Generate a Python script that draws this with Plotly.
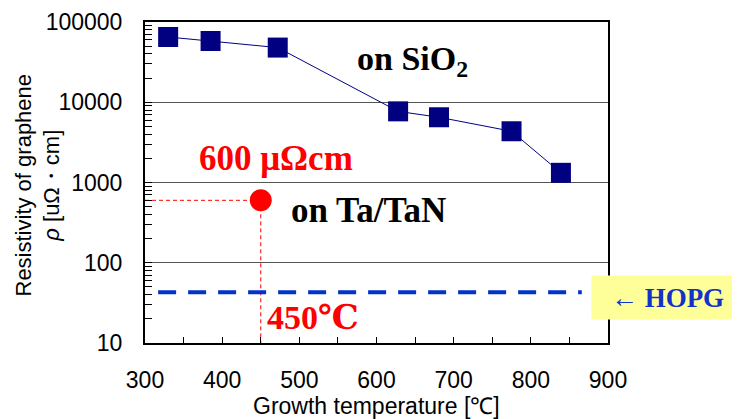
import plotly.graph_objects as go

# Data
sio2_temp = [330, 385, 472, 628, 681, 775, 839]
sio2_rho = [65000, 58000, 48000, 7700, 6500, 4350, 1320]
tatan_temp = [450]
tatan_rho = [600]
hopg_rho = 43
hopg_temp_span = [317, 866]
x_ticks = [300, 400, 500, 600, 700, 800, 900]
y_ticks = [10, 100, 1000, 10000, 100000]
y_ticktext = ["10", "100", "1000", "10000", "100000"]
y_minor = [m * 10 ** e for e in range(1, 5) for m in range(2, 10)]

# page body adds an 8px offset; layout is expressed in screenshot pixels
L, R, T, B = 137, 132, 14, 76
W, H = 732, 411
PW, PH = W - L - R, H - T - B

def px(xs):
    return (xs - 8 - L) / PW

def py(ys):
    return (H - B - (ys - 8)) / PH

fig = go.Figure()

# red guide lines to the Ta/TaN point
fig.add_trace(go.Scatter(x=[300, tatan_temp[0]], y=[tatan_rho[0], tatan_rho[0]], mode="lines",
                         line=dict(color="red", width=1, dash="4px,3px"), showlegend=False, hoverinfo="skip"))
fig.add_trace(go.Scatter(x=[tatan_temp[0], tatan_temp[0]], y=[tatan_rho[0], 10], mode="lines",
                         line=dict(color="red", width=1, dash="4px,3px"), showlegend=False, hoverinfo="skip"))

# HOPG dashed line
fig.add_trace(go.Scatter(x=hopg_temp_span, y=[hopg_rho, hopg_rho], mode="lines",
                         line=dict(color="#0033CC", width=4, dash="18px,12px"), showlegend=False))

# SiO2 series
fig.add_trace(go.Scatter(x=sio2_temp, y=sio2_rho, mode="lines+markers",
                         line=dict(color="#000080", width=1),
                         marker=dict(symbol="square", size=20, color="#000080"),
                         showlegend=False, cliponaxis=False))

# Ta/TaN point
fig.add_trace(go.Scatter(x=tatan_temp, y=tatan_rho, mode="markers",
                         marker=dict(symbol="circle", size=22, color="red"),
                         showlegend=False))

axis_font = dict(family="Liberation Sans, Arial, sans-serif", size=23, color="black")
title_font = dict(family="Liberation Sans, Arial, sans-serif", size=22, color="black")
xtitle_font = dict(family="Liberation Sans, Arial, sans-serif", size=23, color="black")
serif_b = "Liberation Serif, DejaVu Serif, Times New Roman, serif"

fig.update_xaxes(range=[300, 900], tickvals=x_ticks, ticks="inside", ticklen=6, tickcolor="black",
                 tickfont=axis_font, ticklabelstandoff=15,
                 minor=dict(dtick=50, ticks="inside", ticklen=6, tickcolor="black", showgrid=False),
                 showline=True, linecolor="black", linewidth=2, mirror=True, showgrid=False, zeroline=False)
fig.update_yaxes(type="log", range=[1, 5], tickvals=y_ticks, ticktext=y_ticktext, ticks="inside", ticklen=7,
                 tickcolor="black", tickfont=axis_font, ticklabelstandoff=16,
                 minor=dict(tickvals=y_minor, ticks="inside", ticklen=7, tickcolor="black", showgrid=False),
                 showline=True, linecolor="black", linewidth=2, mirror=True,
                 showgrid=True, gridcolor="#555555", gridwidth=1, zeroline=False)

annotations = [
    dict(text="Resistivity of graphene<br><i>ρ</i> [uΩ・cm]", x=px(37.5), y=py(185), xref="paper", yref="paper",
         textangle=-90, showarrow=False, font=title_font, xanchor="center", yanchor="middle"),
    dict(text="Growth temperature [℃]", x=px(376), y=py(406), xref="paper", yref="paper",
         showarrow=False, font=xtitle_font, xanchor="center", yanchor="middle"),
    dict(text="<b>on SiO<sub>2</sub></b>", x=px(412), y=py(38), xref="paper", yref="paper", showarrow=False,
         font=dict(family=serif_b, size=34, color="black")),
    dict(text="<b>600 μΩcm</b>", x=px(197), y=py(158), xref="paper", yref="paper", showarrow=False,
         xanchor="left", font=dict(family=serif_b, size=35, color="red")),
    dict(text="<b>on Ta/TaN</b>", x=px(368), y=py(210), xref="paper", yref="paper", showarrow=False,
         font=dict(family=serif_b, size=35, color="black")),
    dict(text="<b>450℃</b>", x=px(313), y=py(338), xref="paper", yref="paper", showarrow=False,
         font=dict(family=serif_b, size=34, color="red")),
    dict(text="<b>← HOPG</b>", x=px(591), y=py(297.5), xref="paper", yref="paper", showarrow=False,
         xanchor="left", yanchor="middle", width=149, height=41, bgcolor="#FFFF99", align="center",
         font=dict(family=serif_b, size=27, color="#1133CC")),
]

fig.update_layout(width=W, height=H, margin=dict(l=L, r=R, t=T, b=B, autoexpand=False),
                  paper_bgcolor="white", plot_bgcolor="white", annotations=annotations, showlegend=False)

fig.write_html("out.html")
